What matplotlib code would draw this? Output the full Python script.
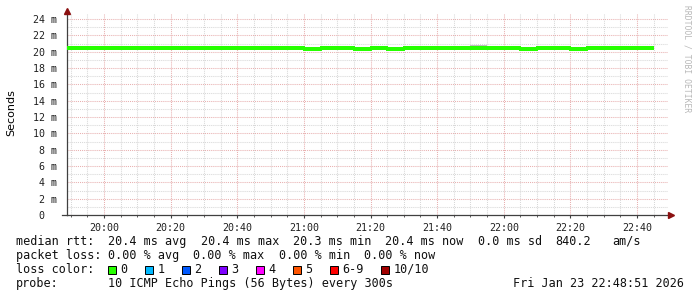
"""
SmokePing style latency graph (rrdtool look) redrawn with matplotlib.
"""

import matplotlib
matplotlib.use("Agg")
import matplotlib.pyplot as plt
import matplotlib.patches as mpatches
from matplotlib.ticker import MultipleLocator, FuncFormatter

W, H = 697, 297
MONO = "DejaVu Sans Mono"

# 5 minute steps, start of each step (minutes after midnight) and median rtt in ms
STEP_START = list(range(19 * 60 + 45, 22 * 60 + 45, 5))
MEDIAN_MS = [20.4] * len(STEP_START)
for hhmm in ["21:00", "21:15", "21:25", "22:05", "22:20"]:
    h, m = hhmm.split(":")
    MEDIAN_MS[STEP_START.index(int(h) * 60 + int(m))] = 20.28

# smoke (ping spread above the median) for a few steps: start, top in ms, grey
SMOKE_START = ["20:35", "21:50", "21:55", "22:35"]
SMOKE_TOP = [20.75, 20.8, 20.72, 20.72]
SMOKE_GREY = ["#c4c4c4", "#bdbdbd", "#dadada", "#dadada"]

Y_TICKS = list(range(0, 26, 2))

STATS_ROW1 = ["median rtt:", "20.4 ms avg", "20.4 ms max", "20.3 ms min",
              "20.4 ms now", "0.0 ms sd", "840.2", "am/s"]
STATS_ROW2 = ["packet loss:", "0.00 % avg", "0.00 % max", "0.00 % min", "0.00 % now"]
LOSS_LABELS = ["0", "1", "2", "3", "4", "5", "6-9", "10/10"]
LOSS_COLORS = ["#26ff00", "#00b8ff", "#0059ff", "#7e00ff", "#ff00ff",
               "#ff5500", "#ff0000", "#a10000"]
PROBE = "10 ICMP Echo Pings (56 Bytes) every 300s"
STAMP = "Fri Jan 23 22:48:51 2026"


def minutes(s):
    h, m = s.split(":")
    return int(h) * 60 + int(m)


fig = plt.figure(figsize=(W / 100, H / 100), dpi=100)
fig.patch.set_facecolor("white")

# plot area in pixels
X0, X1, Y0, Y1 = 67, 668, 215, 14
ax = fig.add_axes([X0 / W, 1 - Y0 / H, (X1 - X0) / W, (Y0 - Y1) / H])
px_per_min = (637 - 104) / 160.0
xmin = 1200 - (104 - X0) / px_per_min
xmax = 1200 + (X1 - 104) / px_per_min
px_per_ms = (215 - 19) / 24.0
ax.set_xlim(xmin, xmax)
ax.set_ylim(0, (Y0 - Y1) / px_per_ms)

# grid
ax.xaxis.set_major_locator(MultipleLocator(20))
ax.xaxis.set_minor_locator(MultipleLocator(5))
ax.yaxis.set_major_locator(MultipleLocator(2))
ax.yaxis.set_minor_locator(MultipleLocator(1))
ax.grid(which="minor", color="#d8d8d8", linestyle=(0, (1, 1)), linewidth=0.75)
ax.grid(which="major", color="#e8b0b0", linestyle=(0, (1, 1)), linewidth=0.75)
ax.set_axisbelow(True)

# smoke
for start, top, grey in zip(SMOKE_START, SMOKE_TOP, SMOKE_GREY):
    t = minutes(start)
    ax.fill_between([t, t + 5], 20.4, top, color=grey, linewidth=0, zorder=2)

# median line (step)
xs = STEP_START + [STEP_START[-1] + 5]
ys = MEDIAN_MS + [MEDIAN_MS[-1]]
ax.plot(xs, ys, drawstyle="steps-post", color="#26ff00", linewidth=1.45,
        antialiased=False, solid_capstyle="butt", zorder=3)

# axes look
for side in ["top", "right"]:
    ax.spines[side].set_visible(False)
for side in ["left", "bottom"]:
    ax.spines[side].set_color("#404040")
    ax.spines[side].set_linewidth(0.9)
ax.tick_params(axis="x", which="major", length=2.5, width=0.8, color="#404040",
               pad=3, labelsize=7.2)
ax.tick_params(axis="x", which="minor", length=1.5, width=0.6, color="#404040")
ax.tick_params(axis="y", which="both", length=0, pad=7, labelsize=7.2)
ax.set_yticks(Y_TICKS)
ax.set_yticklabels([f"{v} m" if v else "0\u00a0\u00a0" for v in Y_TICKS])
ax.xaxis.set_major_formatter(FuncFormatter(lambda v, p: f"{int(v) // 60:02d}:{int(v) % 60:02d}"))
for lab in ax.get_xticklabels() + ax.get_yticklabels():
    lab.set_fontfamily(MONO)
    lab.set_color("#202020")

# arrows at axis ends
ax.plot([1.0 + 3 / (X1 - X0)], [0], marker=">", markersize=4.5, color="#8b1010",
        transform=ax.transAxes, clip_on=False, zorder=5)
ax.plot([0], [1.0 + 3 / (Y0 - Y1)], marker="^", markersize=4.5, color="#8b1010",
        transform=ax.transAxes, clip_on=False, zorder=5)
ax.plot([-5 / (X1 - X0), 0], [0, 0], color="#404040", linewidth=0.9,
        transform=ax.transAxes, clip_on=False)

fig.text(11 / W, 1 - 113 / H, "Seconds", rotation=90, ha="center", va="center",
         fontsize=8, family="DejaVu Sans")
fig.text(687 / W, 1 - 5 / H, "RRDTOOL / TOBI OETIKER", rotation=270, ha="center",
         va="top", fontsize=5.8, family=MONO, color="#b8b8b8")

# legend / stats
CW = 7.1  # px per character
FS = 8.5


def put(x, y, s, **kw):
    fig.text(x / W, 1 - y / H, s, ha="left", va="baseline", fontsize=FS,
             family=MONO, color="#101010", **kw)


cols1 = [0, 13, 26, 39, 52, 65, 76, 84]
for c, s in zip(cols1, STATS_ROW1):
    put(16 + c * CW, 245, s)
cols2 = [0, 13, 25, 37, 49]
for c, s in zip(cols2, STATS_ROW2):
    put(16 + c * CW, 259, s)

put(16, 273, "loss color:")
bx = 108
for lab, col in zip(LOSS_LABELS, LOSS_COLORS):
    fig.patches.append(mpatches.Rectangle((bx / W, 1 - 274 / H), 8 / W, 8 / H,
                                          facecolor=col, edgecolor="black",
                                          linewidth=0.7, transform=fig.transFigure,
                                          figure=fig))
    put(bx + 12.5, 273, lab)
    bx = bx + 12.5 + len(lab) * CW + 17.4

put(16, 287, "probe:")
put(16 + 13 * CW, 287, PROBE)
put(513, 287, STAMP)

fig.savefig("out.png", dpi=100, facecolor="white")
